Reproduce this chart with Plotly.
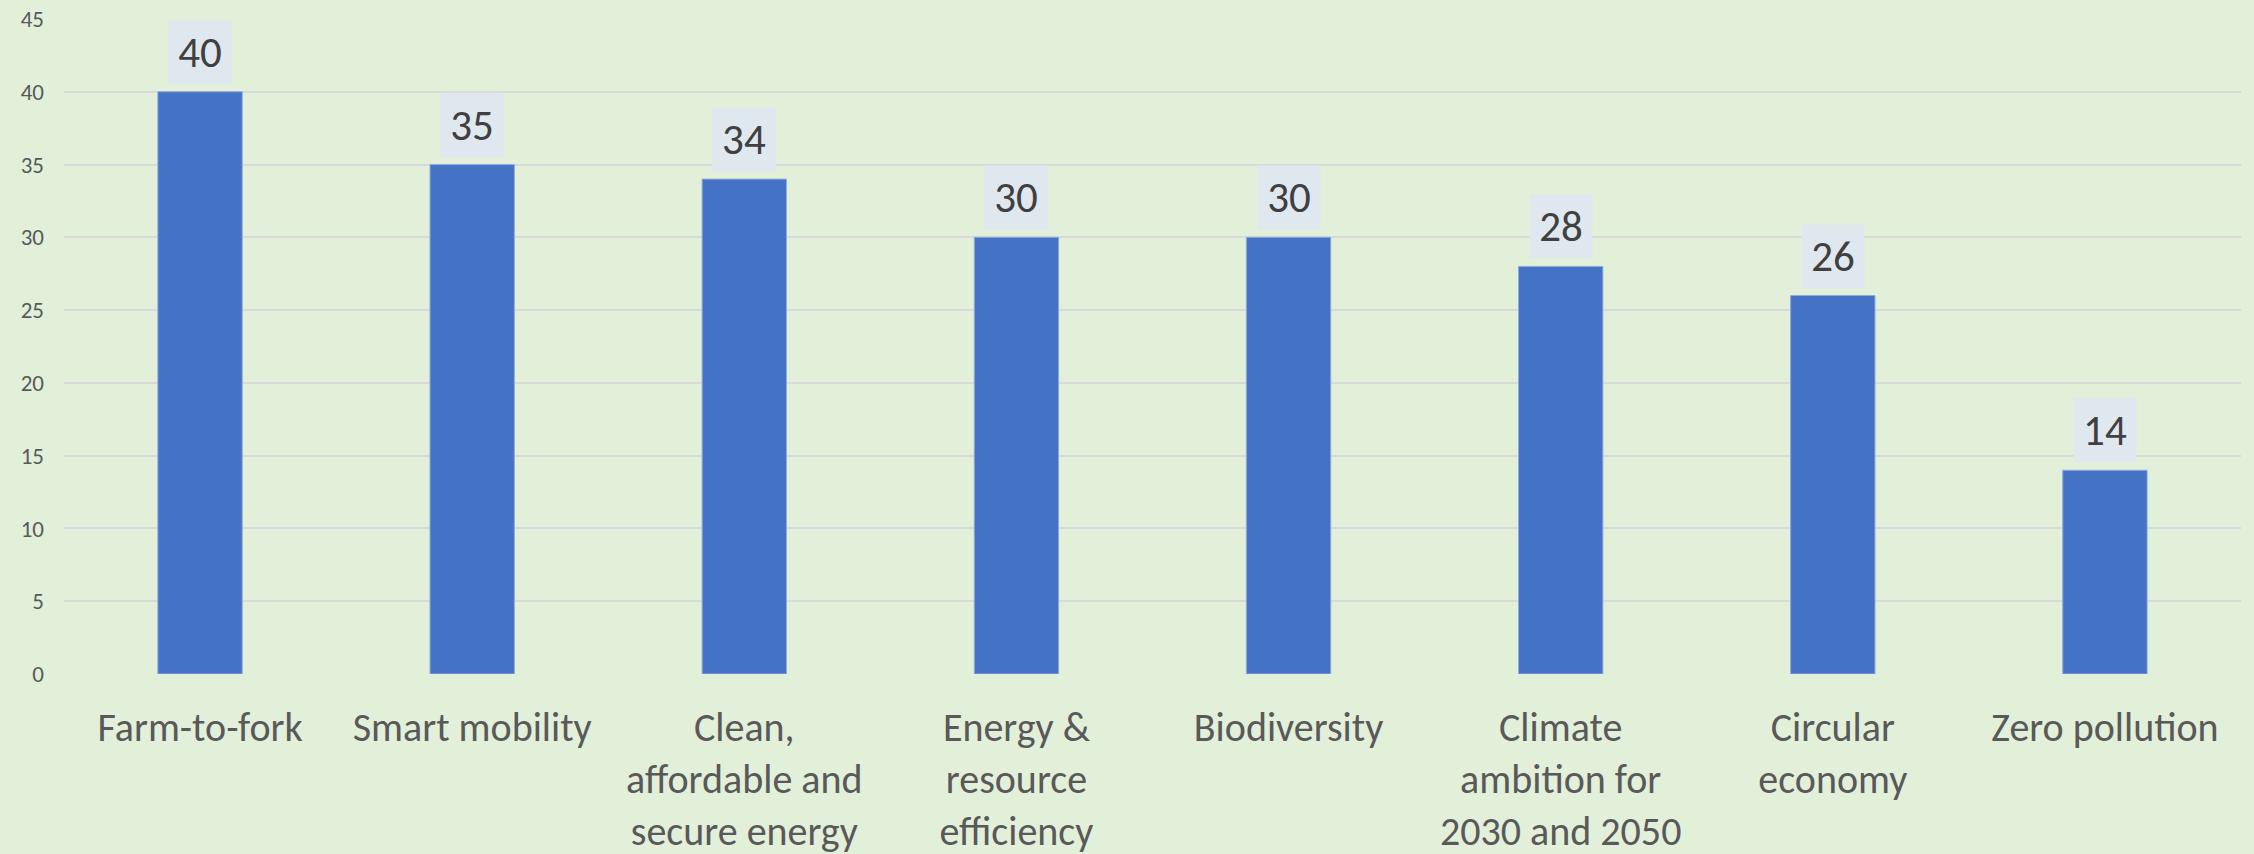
import plotly.graph_objects as go

categories = [
    "Farm-to-fork",
    "Smart mobility",
    "Clean,<br>affordable and<br>secure energy",
    "Energy &<br>resource<br>efficiency",
    "Biodiversity",
    "Climate<br>ambition for<br>2030 and 2050",
    "Circular<br>economy",
    "Zero pollution",
]
values = [40, 35, 34, 30, 30, 28, 26, 14]
y_ticks = [0, 5, 10, 15, 20, 25, 30, 35, 40, 45]

BG = "#e2efd9"
BAR = "#4472c4"
GRID = "#d7d9db"
FONT = "Carlito, Lato, sans-serif"

fig = go.Figure()
fig.add_trace(go.Bar(
    x=categories, y=values,
    marker=dict(color=BAR, line=dict(color="#8faadc", width=1)),
    width=0.31,
    hoverinfo="skip",
))

for c, v in zip(categories, values):
    fig.add_annotation(
        x=c, y=v, xref="x", yref="y",
        text=str(v), showarrow=False,
        yanchor="bottom", xanchor="center", yshift=7,
        bgcolor="#dfe7ef", width=60, height=61,
        font=dict(family=FONT, size=43, color="#404040"),
    )

fig.update_layout(
    width=2254, height=854,
    paper_bgcolor=BG, plot_bgcolor=BG,
    margin=dict(l=64, r=13, t=19, b=180, pad=0, autoexpand=False),
    showlegend=False,
    font=dict(family=FONT, color="#595959"),
)
fig.update_yaxes(
    range=[0, 45], tickvals=y_ticks, showgrid=True, gridcolor=GRID, gridwidth=2,
    zeroline=False, showline=False, ticks="", automargin=False,
    tickfont=dict(family=FONT, size=23, color="#595959"),
    ticklabelstandoff=19,
)
fig.update_xaxes(
    showgrid=False, showline=False, ticks="", automargin=False,
    tickfont=dict(family=FONT, size=40, color="#595959"),
    ticklabelstandoff=26, tickangle=0,
)

fig.write_html(
    "out.html",
    config={"displayModeBar": False},
    post_script="document.body.style.margin='0';document.body.style.overflow='hidden';",
)
